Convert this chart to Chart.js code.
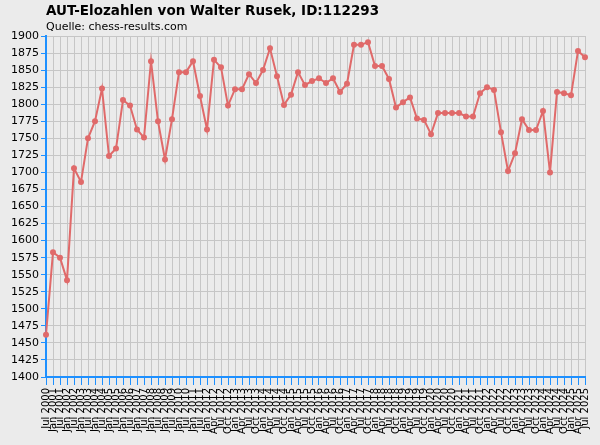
<!DOCTYPE html>
<html><head><meta charset="utf-8">
<script src="https://cdn.jsdelivr.net/npm/chart.js@4"></script>
<style>
html,body{margin:0;padding:0;background:#ebebeb;font-family:"DejaVu Sans",sans-serif;}
#wrap{position:relative;width:600px;height:445px;}
#t{position:absolute;left:46px;top:2px;font-weight:bold;font-size:13.5px;color:#000;}
#s{position:absolute;left:46px;top:20px;font-size:11px;color:#000;}
canvas{position:absolute;left:0;top:0;}
</style></head><body>
<div id="wrap"><canvas id="c" width="600" height="445"></canvas>
<div id="t">AUT-Elozahlen von Walter Rusek, ID:112293</div>
<div id="s">Quelle: chess-results.com</div></div>
<script>
const elo = [1462,1583,1575,1542,1706,1686,1750,1775,1823,1724,1735,1806,1798,1763,1751,1863,1775,1719,1778,1847,1847,1863,1812,1763,1865,1854,1798,1822,1822,1844,1831,1850,1882,1841,1799,1814,1847,1828,1834,1838,1831,1838,1818,1830,1887,1887,1891,1856,1856,1837,1795,1803,1810,1779,1777,1756,1787,1787,1787,1787,1782,1782,1816,1825,1821,1759,1702,1728,1778,1762,1762,1790,1700,1818,1816,1813,1878,1869];
const halfYearLabels = ["Jul 2000","Jan 2001","Jul 2001","Jan 2002","Jul 2002","Jan 2003","Jul 2003","Jan 2004","Jul 2004","Jan 2005","Jul 2005","Jan 2006","Jul 2006","Jan 2007","Jul 2007","Jan 2008","Jul 2008","Jan 2009","Jul 2009","Jan 2010","Jul 2010","Jan 2011","Jul 2011","Jan 2012"];
const quarterLabels = ["Apr 2012","Jul 2012","Oct 2012","Jan 2013","Apr 2013","Jul 2013","Oct 2013","Jan 2014","Apr 2014","Jul 2014","Oct 2014","Jan 2015","Apr 2015","Jul 2015","Oct 2015","Jan 2016","Apr 2016","Jul 2016","Oct 2016","Jan 2017","Apr 2017","Jul 2017","Oct 2017","Jan 2018","Apr 2018","Jul 2018","Oct 2018","Jan 2019","Apr 2019","Jul 2019","Oct 2019","Jan 2020","Apr 2020","Jul 2020","Oct 2020","Jan 2021","Apr 2021","Jul 2021","Oct 2021","Jan 2022","Apr 2022","Jul 2022","Oct 2022","Jan 2023","Apr 2023","Jul 2023","Oct 2023","Jan 2024","Apr 2024","Jul 2024","Oct 2024","Jan 2025","Apr 2025","Jul 2025"];
const labels = halfYearLabels.concat(quarterLabels);
const yMin = 1400, yMax = 1900, yStep = 25;
new Chart(document.getElementById('c'), {
  type: 'line',
  data: { labels: labels, datasets: [{ data: elo, borderColor: '#e06a6a', backgroundColor: '#e06a6a', borderWidth: 2, pointRadius: 2, pointHoverRadius: 2, tension: 0 }] },
  options: {
    responsive: false, animation: false, devicePixelRatio: 1,
    layout: { padding: { top: 36, right: 8, left: 0, bottom: 0 } },
    plugins: { legend: { display: false }, tooltip: { enabled: false } },
    scales: {
      x: { offset: false,
        afterFit: s => { s.height = 68; },
        grid: { color: '#c6c6c6', tickColor: '#1e90ff', tickLength: 8, lineWidth: 1 },
        border: { color: '#1e90ff', width: 2 },
        ticks: { autoSkip: false, minRotation: 90, maxRotation: 90, color: '#000', font: { family: 'DejaVu Sans', size: 10 }, padding: 3 } },
      y: { min: yMin, max: yMax,
        afterFit: s => { s.width = 46; },
        grid: { color: '#c6c6c6', tickColor: '#1e90ff', tickLength: 5 },
        border: { color: '#1e90ff', width: 2 },
        ticks: { stepSize: yStep, color: '#000', font: { family: 'DejaVu Sans', size: 11 }, padding: 2, callback: v => String(v) } }
    }
  }
});
</script></body></html>
